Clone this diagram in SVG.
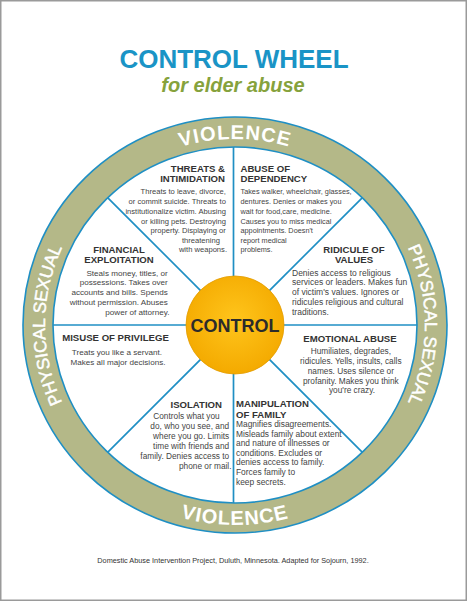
<svg xmlns="http://www.w3.org/2000/svg" width="467" height="601" viewBox="0 0 467 601">
<defs>
<style>
.t{font-family:"Liberation Sans",Arial,Helvetica,sans-serif}
.h{font-family:"Liberation Sans",Arial,Helvetica,sans-serif;font-weight:bold;fill:#333;font-size:9.6px}
.b{font-family:"Liberation Sans",Arial,Helvetica,sans-serif;fill:#444}
.rt{font-family:"Liberation Sans",Arial,Helvetica,sans-serif;fill:#fff}
.spoke{stroke:#1f8fc4;stroke-width:1.7;fill:none}
</style>
<radialGradient id="gold" cx="50%" cy="45%" r="55%">
<stop offset="0" stop-color="#ffc51c"/>
<stop offset="1" stop-color="#f4aa00"/>
</radialGradient>
<path id="cw" d="M235,511 A190,186 0 1,1 235,139 A190,186 0 1,1 235,511"/>
<path id="ccw" d="M235,125 A204,200 0 1,0 235,525 A204,200 0 1,0 235,125"/>
</defs>
<rect x="0.75" y="0.75" width="465.5" height="599.5" fill="#fff" stroke="#9a9a9a" stroke-width="1.5"/>
<g id="title">
<text class="t" x="234" y="68" text-anchor="middle" font-size="26" font-weight="bold" fill="#1a94c6">CONTROL WHEEL</text>
<text class="t" x="233" y="92" text-anchor="middle" font-size="20" font-weight="bold" font-style="italic" fill="#86a23c">for elder abuse</text>
</g>
<g id="connectors">
<line class="spoke" x1="233.5" y1="135" x2="233.5" y2="515"/>
<line class="spoke" x1="45" y1="325" x2="425" y2="325"/>
<line class="spoke" x1="100.6" y1="190.6" x2="369.4" y2="459.4"/>
<line class="spoke" x1="369.4" y1="190.6" x2="100.6" y2="459.4"/>
</g>
<g id="ring">
<path fill="#b4b888" fill-rule="evenodd" stroke="#1f8fc4" stroke-width="1.6" d="M23,325 A212,208 0 1,1 447,325 A212,208 0 1,1 23,325 Z M53,325 A182,178 0 1,0 417,325 A182,178 0 1,0 53,325 Z"/>
<text class="rt" font-size="20" font-weight="bold" letter-spacing="1"><textPath href="#cw" startOffset="50%" text-anchor="middle">VIOLENCE</textPath></text>
<text class="rt" font-size="20" font-weight="bold" letter-spacing="1"><textPath href="#ccw" startOffset="50%" text-anchor="middle">VIOLENCE</textPath></text>
<text class="rt" font-size="17.5" stroke="#fff" stroke-width="0.45"><textPath href="#cw" startOffset="25%" text-anchor="middle">PHYSICAL SEXUAL</textPath></text>
<text class="rt" font-size="17.5" stroke="#fff" stroke-width="0.45"><textPath href="#cw" startOffset="75%" text-anchor="middle">PHYSICAL SEXUAL</textPath></text>
</g>
<g id="control">
<circle cx="235" cy="325" r="49" fill="url(#gold)" stroke="#e39c00" stroke-width="0.8"/>
<text class="t" x="235" y="332" text-anchor="middle" font-size="18" font-weight="bold" fill="#2b2b2b">CONTROL</text>
</g>
<g id="threats">
<text class="h" text-anchor="end"><tspan x="225" y="172">THREATS &amp;</tspan><tspan x="225" y="182">INTIMIDATION</tspan></text>
<text class="b" font-size="7.6" text-anchor="end">
<tspan x="228" y="194">Threats to leave, divorce,</tspan>
<tspan x="228" y="204">or commit suicide. Threats to</tspan>
<tspan x="228" y="214">institutionalize victim. Abusing</tspan>
<tspan x="228" y="223.5">or killing pets. Destroying</tspan>
<tspan x="228" y="233">property. Displaying or</tspan>
<tspan x="222" y="242.5">threatening</tspan>
<tspan x="227" y="252">with weapons.</tspan>
</text>
</g>
<g id="dependency">
<text class="h"><tspan x="240.5" y="171.7">ABUSE OF</tspan><tspan x="240.5" y="181.7">DEPENDENCY</tspan></text>
<text class="b" font-size="7.3">
<tspan x="240.5" y="194.3">Takes walker, wheelchair, glasses,</tspan>
<tspan x="240.5" y="204.3">dentures. Denies or makes you</tspan>
<tspan x="240.5" y="214">wait for food,care, medicine.</tspan>
<tspan x="240.5" y="223.5">Causes you to miss medical</tspan>
<tspan x="240.5" y="233.3">appointments. Doesn't</tspan>
<tspan x="240.5" y="242.7">report medical</tspan>
<tspan x="240.5" y="252.3">problems.</tspan>
</text>
</g>
<g id="financial">
<text class="h" text-anchor="middle"><tspan x="119" y="252.7">FINANCIAL</tspan><tspan x="119" y="263">EXPLOITATION</tspan></text>
<text class="b" font-size="8.1" text-anchor="end">
<tspan x="170" y="275.7">Steals money, titles, or</tspan>
<tspan x="170" y="285.3">possessions. Takes over</tspan>
<tspan x="170" y="295">accounts and bills. Spends</tspan>
<tspan x="170" y="304.7">without permission. Abuses</tspan>
<tspan x="169.5" y="314.5">power of attorney.</tspan>
</text>
</g>
<g id="ridicule">
<text class="h" text-anchor="middle" font-size="9.9"><tspan x="354" y="253">RIDICULE OF</tspan><tspan x="354" y="263">VALUES</tspan></text>
<text class="b" font-size="8.5">
<tspan x="292" y="275.7">Denies access to religious</tspan>
<tspan x="292" y="285.3">services or leaders. Makes fun</tspan>
<tspan x="292" y="295">of victim's values. Ignores or</tspan>
<tspan x="292" y="304.7">ridicules religious and cultural</tspan>
<tspan x="292" y="314.5">traditions.</tspan>
</text>
</g>
<g id="privilege">
<text class="h" x="115.5" y="340.7" text-anchor="middle" font-size="9.4">MISUSE OF PRIVILEGE</text>
<text class="b" font-size="8.1" text-anchor="middle">
<tspan x="118" y="355">Treats you like a servant.</tspan>
<tspan x="118" y="365">Makes all major decisions.</tspan>
</text>
</g>
<g id="emotional">
<text class="h" x="350" y="341.7" text-anchor="middle" font-size="10">EMOTIONAL ABUSE</text>
<text class="b" font-size="8.3" text-anchor="middle">
<tspan x="352" y="354">Humiliates, degrades,</tspan>
<tspan x="352" y="364">ridicules. Yells, insults, calls</tspan>
<tspan x="352" y="373.7">names. Uses silence or</tspan>
<tspan x="352" y="383.5">profanity. Makes you think</tspan>
<tspan x="352" y="393.3">you're crazy.</tspan>
</text>
</g>
<g id="isolation">
<text class="h" x="222" y="408.3" text-anchor="end" font-size="9.4">ISOLATION</text>
<text class="b" font-size="8.3" text-anchor="end">
<tspan x="222" y="419">Controls what you</tspan>
<tspan x="231.5" y="429">do, who you see, and</tspan>
<tspan x="231.5" y="439">where you go. Limits</tspan>
<tspan x="231.5" y="449">time with friends and</tspan>
<tspan x="231.5" y="459">family. Denies access to</tspan>
<tspan x="231.5" y="469">phone or mail.</tspan>
</text>
</g>
<g id="manipulation">
<text class="h" font-size="9.2"><tspan x="236" y="407">MANIPULATION</tspan><tspan x="236" y="417.5">OF FAMILY</tspan></text>
<text class="b" font-size="8.4">
<tspan x="236" y="427">Magnifies disagreements.</tspan>
<tspan x="236" y="436.5">Misleads family about extent</tspan>
<tspan x="236" y="446">and nature of illnesses or</tspan>
<tspan x="236" y="455.5">conditions. Excludes or</tspan>
<tspan x="236" y="465">denies access to family.</tspan>
<tspan x="236" y="475">Forces family to</tspan>
<tspan x="236" y="485">keep secrets.</tspan>
</text>
</g>
<text id="footer" class="t" x="233" y="563" text-anchor="middle" font-size="7.3" fill="#333">Domestic Abuse Intervention Project, Duluth, Minnesota. Adapted for Sojourn, 1992.</text>
</svg>
